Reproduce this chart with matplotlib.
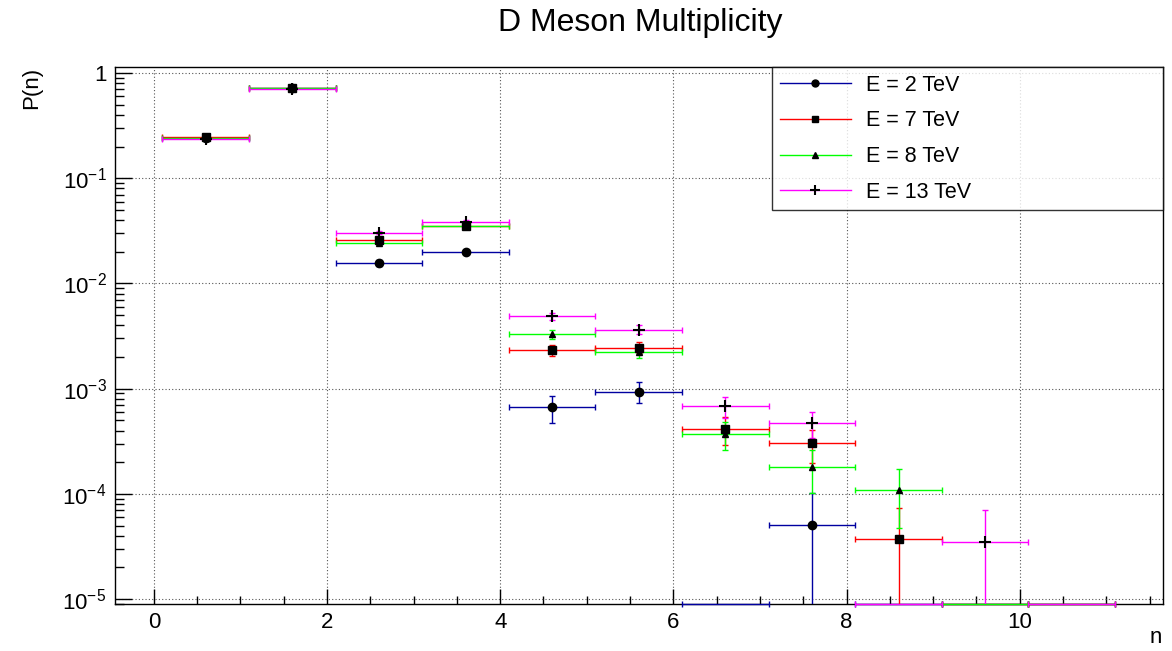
import numpy as np
import matplotlib
matplotlib.use("Agg")
import matplotlib.pyplot as plt
from matplotlib.lines import Line2D
from matplotlib.ticker import LogLocator, MultipleLocator, FuncFormatter, NullFormatter

plt.rcParams['font.family'] = ['Liberation Sans', 'DejaVu Sans']

# bin centres (bins are 1 wide, starting at 0.1)
n = [0.6, 1.6, 2.6, 3.6, 4.6, 5.6, 6.6, 7.6, 8.6, 9.6, 10.6]

p_2tev = [0.240, 0.725, 0.0157, 0.0200, 6.64e-4, 9.4e-4, 0, 5.1e-5, 0, 0, 0]
e_2tev = [3.5e-3, 6.1e-3, 9.0e-4, 1.0e-3, 1.9e-4, 2.1e-4, 0, 5.1e-5, 0, 0, 0]

p_7tev = [0.245, 0.715, 0.0257, 0.0350, 2.33e-3, 2.46e-3, 4.16e-4, 3.03e-4, 3.7e-5, 0, 0]
e_7tev = [3.0e-3, 5.1e-3, 9.8e-4, 1.14e-3, 2.9e-4, 3.0e-4, 1.24e-4, 1.06e-4, 3.7e-5, 0, 0]

p_8tev = [0.242, 0.718, 0.0242, 0.0349, 3.29e-3, 2.23e-3, 3.73e-4, 1.81e-4, 1.09e-4, 0, 0]
e_8tev = [2.9e-3, 5.0e-3, 9.2e-4, 1.1e-3, 3.4e-4, 2.8e-4, 1.14e-4, 8.0e-5, 6.2e-5, 0, 0]

p_13tev = [0.238, 0.710, 0.0303, 0.0386, 4.88e-3, 3.65e-3, 6.84e-4, 4.67e-4, 0, 3.5e-5, 0]
e_13tev = [2.9e-3, 5.0e-3, 1.03e-3, 1.16e-3, 4.1e-4, 3.6e-4, 1.55e-4, 1.28e-4, 0, 3.5e-5, 0]

labels = ["E = 2 TeV", "E = 7 TeV", "E = 8 TeV", "E = 13 TeV"]
colors = ["#0000a0", "#ff0000", "#00ff00", "#ff00ff"]
markers = ["o", "s", "^", "+"]
msizes = [6, 6, 5, 8]

YMIN, YMAX = 8.96e-6, 1.14

fig = plt.figure(figsize=(11.72, 6.51), dpi=100)
ax = fig.add_axes([0.098, 0.072, 0.894, 0.825])
ax.set_yscale('log', nonpositive='clip')
ax.set_xlim(-0.45, 11.65)
ax.set_ylim(YMIN, YMAX)

series = [(p_2tev, e_2tev), (p_7tev, e_7tev), (p_8tev, e_8tev), (p_13tev, e_13tev)]
handles = []
for (vals, errs), lab, c, m, ms in zip(series, labels, colors, markers, msizes):
    vals = np.array(vals)
    errs = np.array(errs)
    x = np.array(n)
    nz = vals > 0
    # filled bins
    ax.errorbar(x[nz], vals[nz], xerr=0.5, yerr=errs[nz], fmt='none', ecolor=c,
                elinewidth=1.0, capsize=2, capthick=1.0, zorder=3)
    ax.plot(x[nz], vals[nz], linestyle='none', marker=m, color='k', ms=ms,
            mew=1.5 if m == '+' else 1.0, zorder=5)
    # empty bins sit on the bottom of the frame
    if (~nz).any():
        ax.errorbar(x[~nz], np.full((~nz).sum(), YMIN), xerr=0.5, fmt='none', ecolor=c,
                    elinewidth=1.0, capsize=2, capthick=1.0, zorder=3, clip_on=False)
    handles.append(Line2D([], [], color=c, lw=1.0, marker=m, markerfacecolor='k',
                          markeredgecolor='k', ms=ms - 1, mew=1.5 if m == '+' else 1.0))

# ticks, ROOT style (inside)
ax.xaxis.set_major_locator(MultipleLocator(2))
ax.xaxis.set_minor_locator(MultipleLocator(0.5))
ax.yaxis.set_major_locator(LogLocator(base=10, numticks=10))
ax.yaxis.set_minor_locator(LogLocator(base=10, subs=np.arange(2, 10), numticks=20))
ax.yaxis.set_minor_formatter(NullFormatter())

def ylab(v, pos):
    e = int(round(np.log10(v)))
    return "1" if e == 0 else r"$\mathregular{10^{%d}}$" % e

ax.yaxis.set_major_formatter(FuncFormatter(ylab))
ax.tick_params(axis='both', which='both', direction='in', labelsize=16, top=False, right=False)
ax.tick_params(axis='x', which='major', length=11, width=1, pad=6)
ax.tick_params(axis='x', which='minor', length=5.5, width=1)
ax.tick_params(axis='y', which='major', length=12, width=1, pad=6)
ax.tick_params(axis='y', which='minor', length=6.5, width=1)

ax.grid(True, which='major', color='#555555', linestyle=(0, (1, 2)), linewidth=0.8)
ax.set_axisbelow(True)
for s in ax.spines.values():
    s.set_linewidth(1.0)

fig.text(0.5465, 0.965, "D Meson Multiplicity", ha='center', va='center', fontsize=23)
fig.text(0.991, 0.005, "n", ha='right', va='bottom', fontsize=16)
fig.text(0.027, 0.897, "P(n)", ha='center', va='top', rotation=90, fontsize=16)

leg = ax.legend(handles, labels, loc='upper left', bbox_to_anchor=(0.627, 0.737, 0.373, 0.263),
                mode='expand', fontsize=15.5, frameon=True, fancybox=False, edgecolor='k',
                borderaxespad=0, handlelength=3.3, handletextpad=0.7,
                labelspacing=0.68, borderpad=0.36)
leg.get_frame().set_linewidth(1.0)

fig.savefig("out.png", dpi=100)
